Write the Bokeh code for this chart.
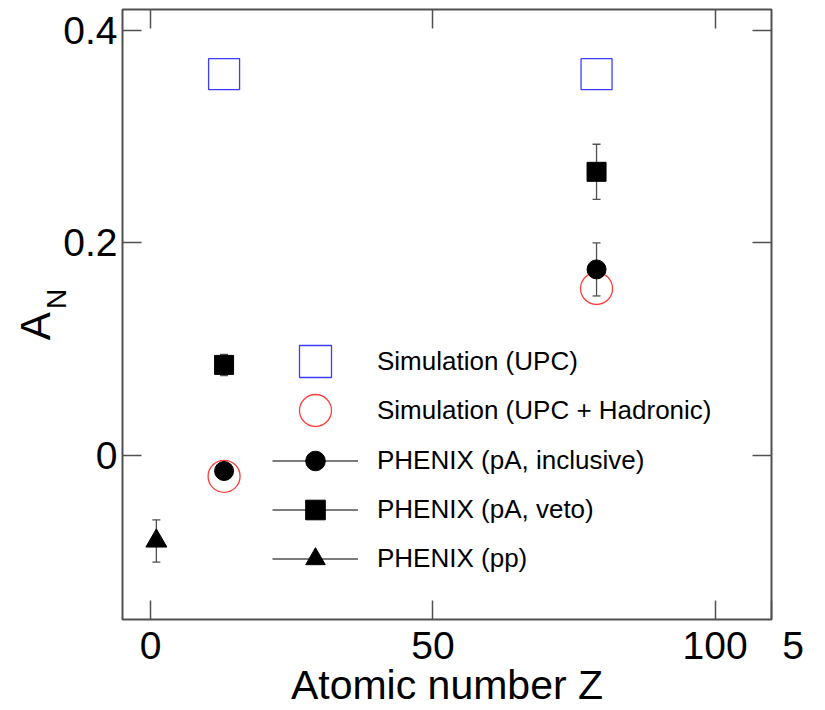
from bokeh.plotting import figure
from bokeh.models import (Range1d, FixedTicker, LinearAxis, Legend,
                          LegendItem, NumeralTickFormatter)
from bokeh.embed import file_html
from bokeh.resources import INLINE

# ---------------- data ----------------
sim_upc_z = [13, 79]
sim_upc_an = [0.359, 0.359]

sim_had_z = [13, 79]
sim_had_an = [-0.020, 0.157]

incl_z = [13, 79]
incl_an = [-0.015, 0.175]
incl_err = [0.006, 0.025]

veto_z = [13, 79]
veto_an = [0.085, 0.267]
veto_err = [0.010, 0.026]

pp_z = [1]
pp_an = [-0.081]
pp_err = [0.020]

x_ticks = [0, 50, 100]
x_tick_labels = ["0", "50", "100"]
y_ticks = [0, 0.2, 0.4]
y_tick_labels = ["0", "0.2", "0.4"]
corner_tick = 110          # right edge of the x axis
corner_label = "5"         # stray page number printed next to the x axis

x_title = "Atomic number Z"
y_title = "A"
y_title_sub = "N"

legend_labels = ["Simulation (UPC)", "Simulation (UPC + Hadronic)",
                 "PHENIX (pA, inclusive)", "PHENIX (pA, veto)", "PHENIX (pp)"]

FONT = "Liberation Sans"
FRAME = "#505050"
NBSP = "\u00a0"

p = figure(width=825, height=710,
           x_range=Range1d(-5, 110), y_range=Range1d(-0.155, 0.42),
           output_backend="svg", toolbar_location=None,
           min_border_left=122, min_border_right=54,
           min_border_top=9, min_border_bottom=89)
p.xgrid.visible = False
p.ygrid.visible = False
p.outline_line_color = FRAME
p.outline_line_width = 2
p.background_fill_color = "white"
p.border_fill_color = "white"

p.add_layout(LinearAxis(), "above")
p.add_layout(LinearAxis(), "right")


def style_axis(ax, ticks, labels, show, standoff):
    ax.ticker = FixedTicker(ticks=ticks)
    ax.formatter = NumeralTickFormatter(format="0.[0]")
    if show:
        ax.major_label_overrides = dict(zip(ticks, labels))
        ax.major_label_text_font_size = "39px"
    else:
        ax.major_label_overrides = {t: "" for t in ticks}
        ax.major_label_text_font_size = "0px"
    ax.major_label_text_font = FONT
    ax.major_label_text_color = "black"
    ax.major_label_standoff = standoff
    ax.major_tick_in = 19
    ax.major_tick_out = 0
    ax.minor_tick_in = 0
    ax.minor_tick_out = 0
    ax.minor_tick_line_color = None
    ax.major_tick_line_color = FRAME
    ax.major_tick_line_width = 1.5
    ax.axis_line_color = None


bottom = p.below[0]
style_axis(bottom, x_ticks + [corner_tick],
           x_tick_labels + [NBSP * 4 + corner_label], True, 4)
bottom.axis_label = x_title
bottom.axis_label_text_font = FONT
bottom.axis_label_text_font_size = "41px"
bottom.axis_label_text_font_style = "normal"
bottom.axis_label_text_color = "black"
bottom.axis_label_standoff = -8

left = p.left[0]
style_axis(left, y_ticks, y_tick_labels, True, 5)
left.axis_label = NBSP * 4 + y_title_sub
left.axis_label_text_font = FONT
left.axis_label_text_font_size = "28px"
left.axis_label_text_font_style = "normal"
left.axis_label_text_color = "black"
left.axis_label_standoff = -12

outer = LinearAxis(ticker=FixedTicker(ticks=[]), axis_line_color=None,
                   major_tick_in=0, major_tick_out=0, minor_tick_in=0,
                   minor_tick_out=0, major_label_standoff=0,
                   major_label_text_font_size="0px",
                   axis_label=y_title + NBSP * 2, axis_label_text_font=FONT,
                   axis_label_text_font_size="42px",
                   axis_label_text_font_style="normal",
                   axis_label_text_color="black", axis_label_standoff=-20)
p.add_layout(outer, "left")

style_axis(p.above[0], x_ticks, x_tick_labels, False, 0)
style_axis(p.right[0], y_ticks, y_tick_labels, False, 0)

# ---------------- simulations ----------------
blue = p.scatter(sim_upc_z, sim_upc_an, marker="square", size=31,
                 fill_color=None, line_color="#3c3cff", line_width=1.3)
red = p.scatter(sim_had_z, sim_had_an, marker="circle", size=32,
                fill_color=None, line_color="#ff3c3c", line_width=1.3)


# ---------------- PHENIX with error bars ----------------
def errbars(z, an, err):
    lo = [a - e for a, e in zip(an, err)]
    hi = [a + e for a, e in zip(an, err)]
    seg = p.segment(x0=z, y0=lo, x1=z, y1=hi, line_color=FRAME, line_width=1.3)
    p.scatter(list(z) + list(z), lo + hi, marker="dash", size=8,
              line_color=FRAME, line_width=1.3)
    return seg


incl_seg = errbars(incl_z, incl_an, incl_err)
veto_seg = errbars(veto_z, veto_an, veto_err)
pp_seg = errbars(pp_z, pp_an, pp_err)

incl_m = p.scatter(incl_z, incl_an, marker="circle", size=19,
                   fill_color="black", line_color="black")
veto_m = p.scatter(veto_z, veto_an, marker="square", size=19,
                   fill_color="black", line_color="black")
pp_m = p.scatter(pp_z, pp_an, marker="triangle", size=21,
                 fill_color="black", line_color="black")


# ---------------- legends ----------------
def make_legend(items, loc, gh):
    lg = Legend(items=items, location=loc, glyph_width=86, glyph_height=gh,
                label_standoff=19, padding=0, margin=0, spacing=0,
                label_text_font=FONT, label_text_font_size="26px",
                label_text_color="black", border_line_color=None,
                background_fill_alpha=0)
    p.add_layout(lg)


make_legend([LegendItem(label=legend_labels[0], renderers=[blue])], (150, 218), 80)
make_legend([LegendItem(label=legend_labels[1], renderers=[red])], (150, 169), 80)
make_legend([LegendItem(label=legend_labels[2], renderers=[incl_seg, incl_m]),
             LegendItem(label=legend_labels[3], renderers=[veto_seg, veto_m]),
             LegendItem(label=legend_labels[4], renderers=[pp_seg, pp_m])],
            (150, 36), 49)

open("out.html", "w").write(file_html(p, INLINE))
